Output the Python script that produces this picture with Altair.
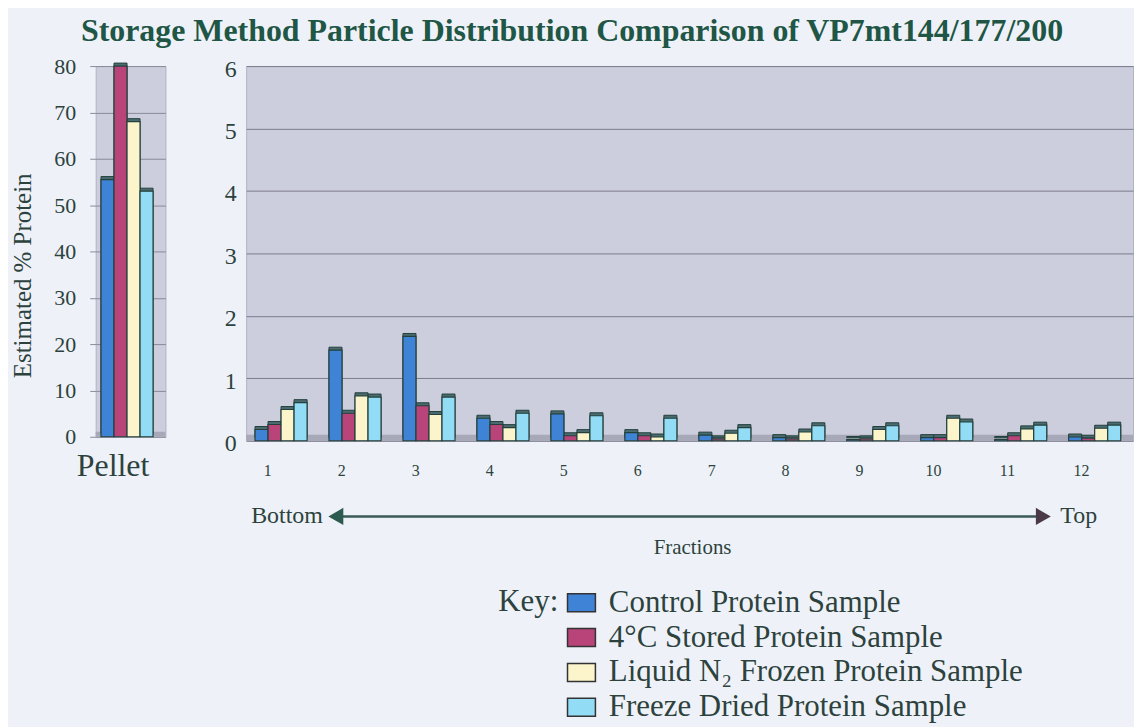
import altair as alt
import pandas as pd

# ---------------- data ----------------
series = [
    "Control Protein Sample",
    "4°C Stored Protein Sample",
    "Liquid N₂ Frozen Protein Sample",
    "Freeze Dried Protein Sample",
]
colors = ["#3f83d6", "#b8447a", "#fcf5cc", "#93dcf6"]

pellet_label = ["Pellet"]
pellet_values = [55.5, 80, 68, 53]

fractions = ["1", "2", "3", "4", "5", "6", "7", "8", "9", "10", "11", "12"]
control = [0.18, 1.45, 1.67, 0.36, 0.43, 0.13, 0.09, 0.05, 0.02, 0.05, 0.02, 0.06]
stored4 = [0.26, 0.44, 0.56, 0.26, 0.08, 0.08, 0.03, 0.03, 0.03, 0.05, 0.08, 0.04]
frozen = [0.50, 0.72, 0.42, 0.21, 0.13, 0.06, 0.12, 0.14, 0.18, 0.36, 0.19, 0.20]
dried = [0.61, 0.70, 0.70, 0.44, 0.40, 0.36, 0.21, 0.24, 0.24, 0.30, 0.25, 0.25]

pellet_df = pd.DataFrame({"cat": pellet_label * 4, "series": series, "value": pellet_values})
rows = []
for s, vals in zip(series, [control, stored4, frozen, dried]):
    for f, v in zip(fractions, vals):
        rows.append({"fraction": f, "series": s, "value": v})
frac_df = pd.DataFrame(rows)
one = pd.DataFrame({"k": [0]})

SERIF = "Liberation Serif"
TXT = "#2d423d"
WALL = "#cccddd"
FLOOR = "#a7a8b8"
EDGE = "#23403b"
DEPTH = "#4b6b70"

color_enc = alt.Color(
    "series:N",
    scale=alt.Scale(domain=series, range=colors),
    legend=alt.Legend(
        title="Key:",
        titleOrient="left",
        titleAnchor="start",
        titleBaseline="top",
        titleFontSize=31,
        titleFont=SERIF,
        titleFontWeight="normal",
        titleColor=TXT,
        titlePadding=7,
        labelFontSize=31,
        labelFont=SERIF,
        labelColor=TXT,
        labelLimit=700,
        labelOffset=12,
        orient="none",
        legendX=404,
        legendY=523,
        symbolType="M-1.4,-0.9H1.4V0.9H-1.4Z",
        symbolSize=400,
        symbolStrokeColor="#333333",
        symbolStrokeWidth=1.5,
        symbolOpacity=1,
        rowPadding=3,
    ),
)

# ---------------- left panel (pellet) ----------------
LW, LH = 70, 372
lx = alt.X(
    "cat:N",
    scale=alt.Scale(paddingInner=0, paddingOuter=0.17, align=0.3),
    axis=alt.Axis(title=None, labelAngle=0, labelFontSize=32, labelFont=SERIF,
                  labelColor=TXT, ticks=False, domain=False, labelPadding=14,
                  labelOffset=-14),
)
ly = alt.Y(
    "value:Q",
    scale=alt.Scale(domain=[0, 80], nice=False),
    axis=alt.Axis(values=list(range(0, 81, 10)), title="Estimated % Protein",
                  titleFontSize=25, titleFont=SERIF, titleFontWeight="normal",
                  titleColor=TXT, titlePadding=14, titleX=-73, titleY=210,
                  titleBaseline="middle", labelFontSize=22,
                  labelFont=SERIF, labelColor=TXT, labelPadding=14,
                  tickSize=6, tickColor="#8a8a9a", domain=False,
                  grid=True, gridColor="#8a8a9a"),
)
lxo = alt.XOffset("series:N", sort=series, scale=alt.Scale(domain=series, paddingInner=0))

left_floor = alt.Chart(one).mark_rect(color=FLOOR).encode(
    x=alt.value(0), x2=alt.value(LW), y=alt.value(LH - 5), y2=alt.value(LH)
)
left_depth = alt.Chart(pellet_df).mark_bar(xOffset=4, yOffset=-3, color=DEPTH,
                                           stroke=EDGE, strokeWidth=1).encode(
    x=lx, xOffset=lxo, y=ly
)
left_bars = alt.Chart(pellet_df).mark_bar(stroke=EDGE, strokeWidth=1.2).encode(
    x=lx, xOffset=lxo, y=ly, color=color_enc
)
left = alt.layer(left_floor, left_depth, left_bars).properties(width=LW, height=LH)

# ---------------- right panel (fractions) ----------------
RW, RH = 890, 376
rx = alt.X(
    "fraction:N",
    sort=fractions,
    scale=alt.Scale(domain=fractions, paddingInner=0.25, paddingOuter=0.12),
    axis=alt.Axis(title=None, labelAngle=0, labelFontSize=16, labelFont=SERIF,
                  labelColor=TXT, ticks=False, domain=False, labelPadding=22,
                  labelOffset=-15),
)
ry = alt.Y(
    "value:Q",
    scale=alt.Scale(domain=[0, 6], nice=False),
    axis=alt.Axis(values=[0, 1, 2, 3, 4, 5, 6], title=None, labelFontSize=24,
                  labelFont=SERIF, labelColor=TXT, labelPadding=10, labelOffset=3,
                  ticks=False, domain=False, grid=True, gridColor="#7c7c8c"),
)
rxo = alt.XOffset("series:N", sort=series, scale=alt.Scale(domain=series, paddingInner=0))

right_floor = alt.Chart(one).mark_rect(color=FLOOR).encode(
    x=alt.value(0), x2=alt.value(RW), y=alt.value(RH - 6), y2=alt.value(RH)
)
right_depth = alt.Chart(frac_df).mark_bar(xOffset=4, yOffset=-3, color=DEPTH,
                                          stroke=EDGE, strokeWidth=1).encode(
    x=rx, xOffset=rxo, y=ry
)
right_bars = alt.Chart(frac_df).mark_bar(stroke=EDGE, strokeWidth=1.2).encode(
    x=rx, xOffset=rxo, y=ry, color=color_enc
)

AY = 452
arrow_line = alt.Chart(one).mark_rule(color="#3a5a55", strokeWidth=2.5).encode(
    x=alt.value(92), x2=alt.value(795), y=alt.value(AY)
)
arrow_left = alt.Chart(one).mark_point(shape="triangle-left", filled=True, size=300,
                                       color="#2c5a4e", opacity=1).encode(
    x=alt.value(90), y=alt.value(AY)
)
arrow_right = alt.Chart(one).mark_point(shape="triangle-right", filled=True, size=300,
                                        color="#4a3a48", opacity=1).encode(
    x=alt.value(800), y=alt.value(AY)
)
txt_bottom = alt.Chart(one).mark_text(text="Bottom", align="right", baseline="middle",
                                      font=SERIF, fontSize=24, color=TXT).encode(
    x=alt.value(77), y=alt.value(AY)
)
txt_top = alt.Chart(one).mark_text(text="Top", align="left", baseline="middle",
                                   font=SERIF, fontSize=24, color=TXT).encode(
    x=alt.value(817), y=alt.value(AY)
)
txt_frac = alt.Chart(one).mark_text(text="Fractions", align="center", baseline="middle",
                                    font=SERIF, fontSize=21, color=TXT).encode(
    x=alt.value(448), y=alt.value(484)
)

right = alt.layer(right_floor, right_depth, right_bars, arrow_line, arrow_left,
                  arrow_right, txt_bottom, txt_top, txt_frac).properties(width=RW, height=RH)

chart = (
    alt.hconcat(left, right, spacing=57)
    .properties(
        title=alt.TitleParams(
            "Storage Method Particle Distribution Comparison of VP7mt144/177/200",
            font=SERIF, fontSize=32, fontWeight="bold", color="#1f5646",
            anchor="middle", offset=7,
        ),
        background="#eef2f8",
        padding={"left": 2, "top": 5, "right": 0, "bottom": 5},
    )
    .configure_view(fill=WALL, stroke="#b2b3c4")
)

chart.save("out.html", embed_options={"renderer": "svg", "actions": False})
